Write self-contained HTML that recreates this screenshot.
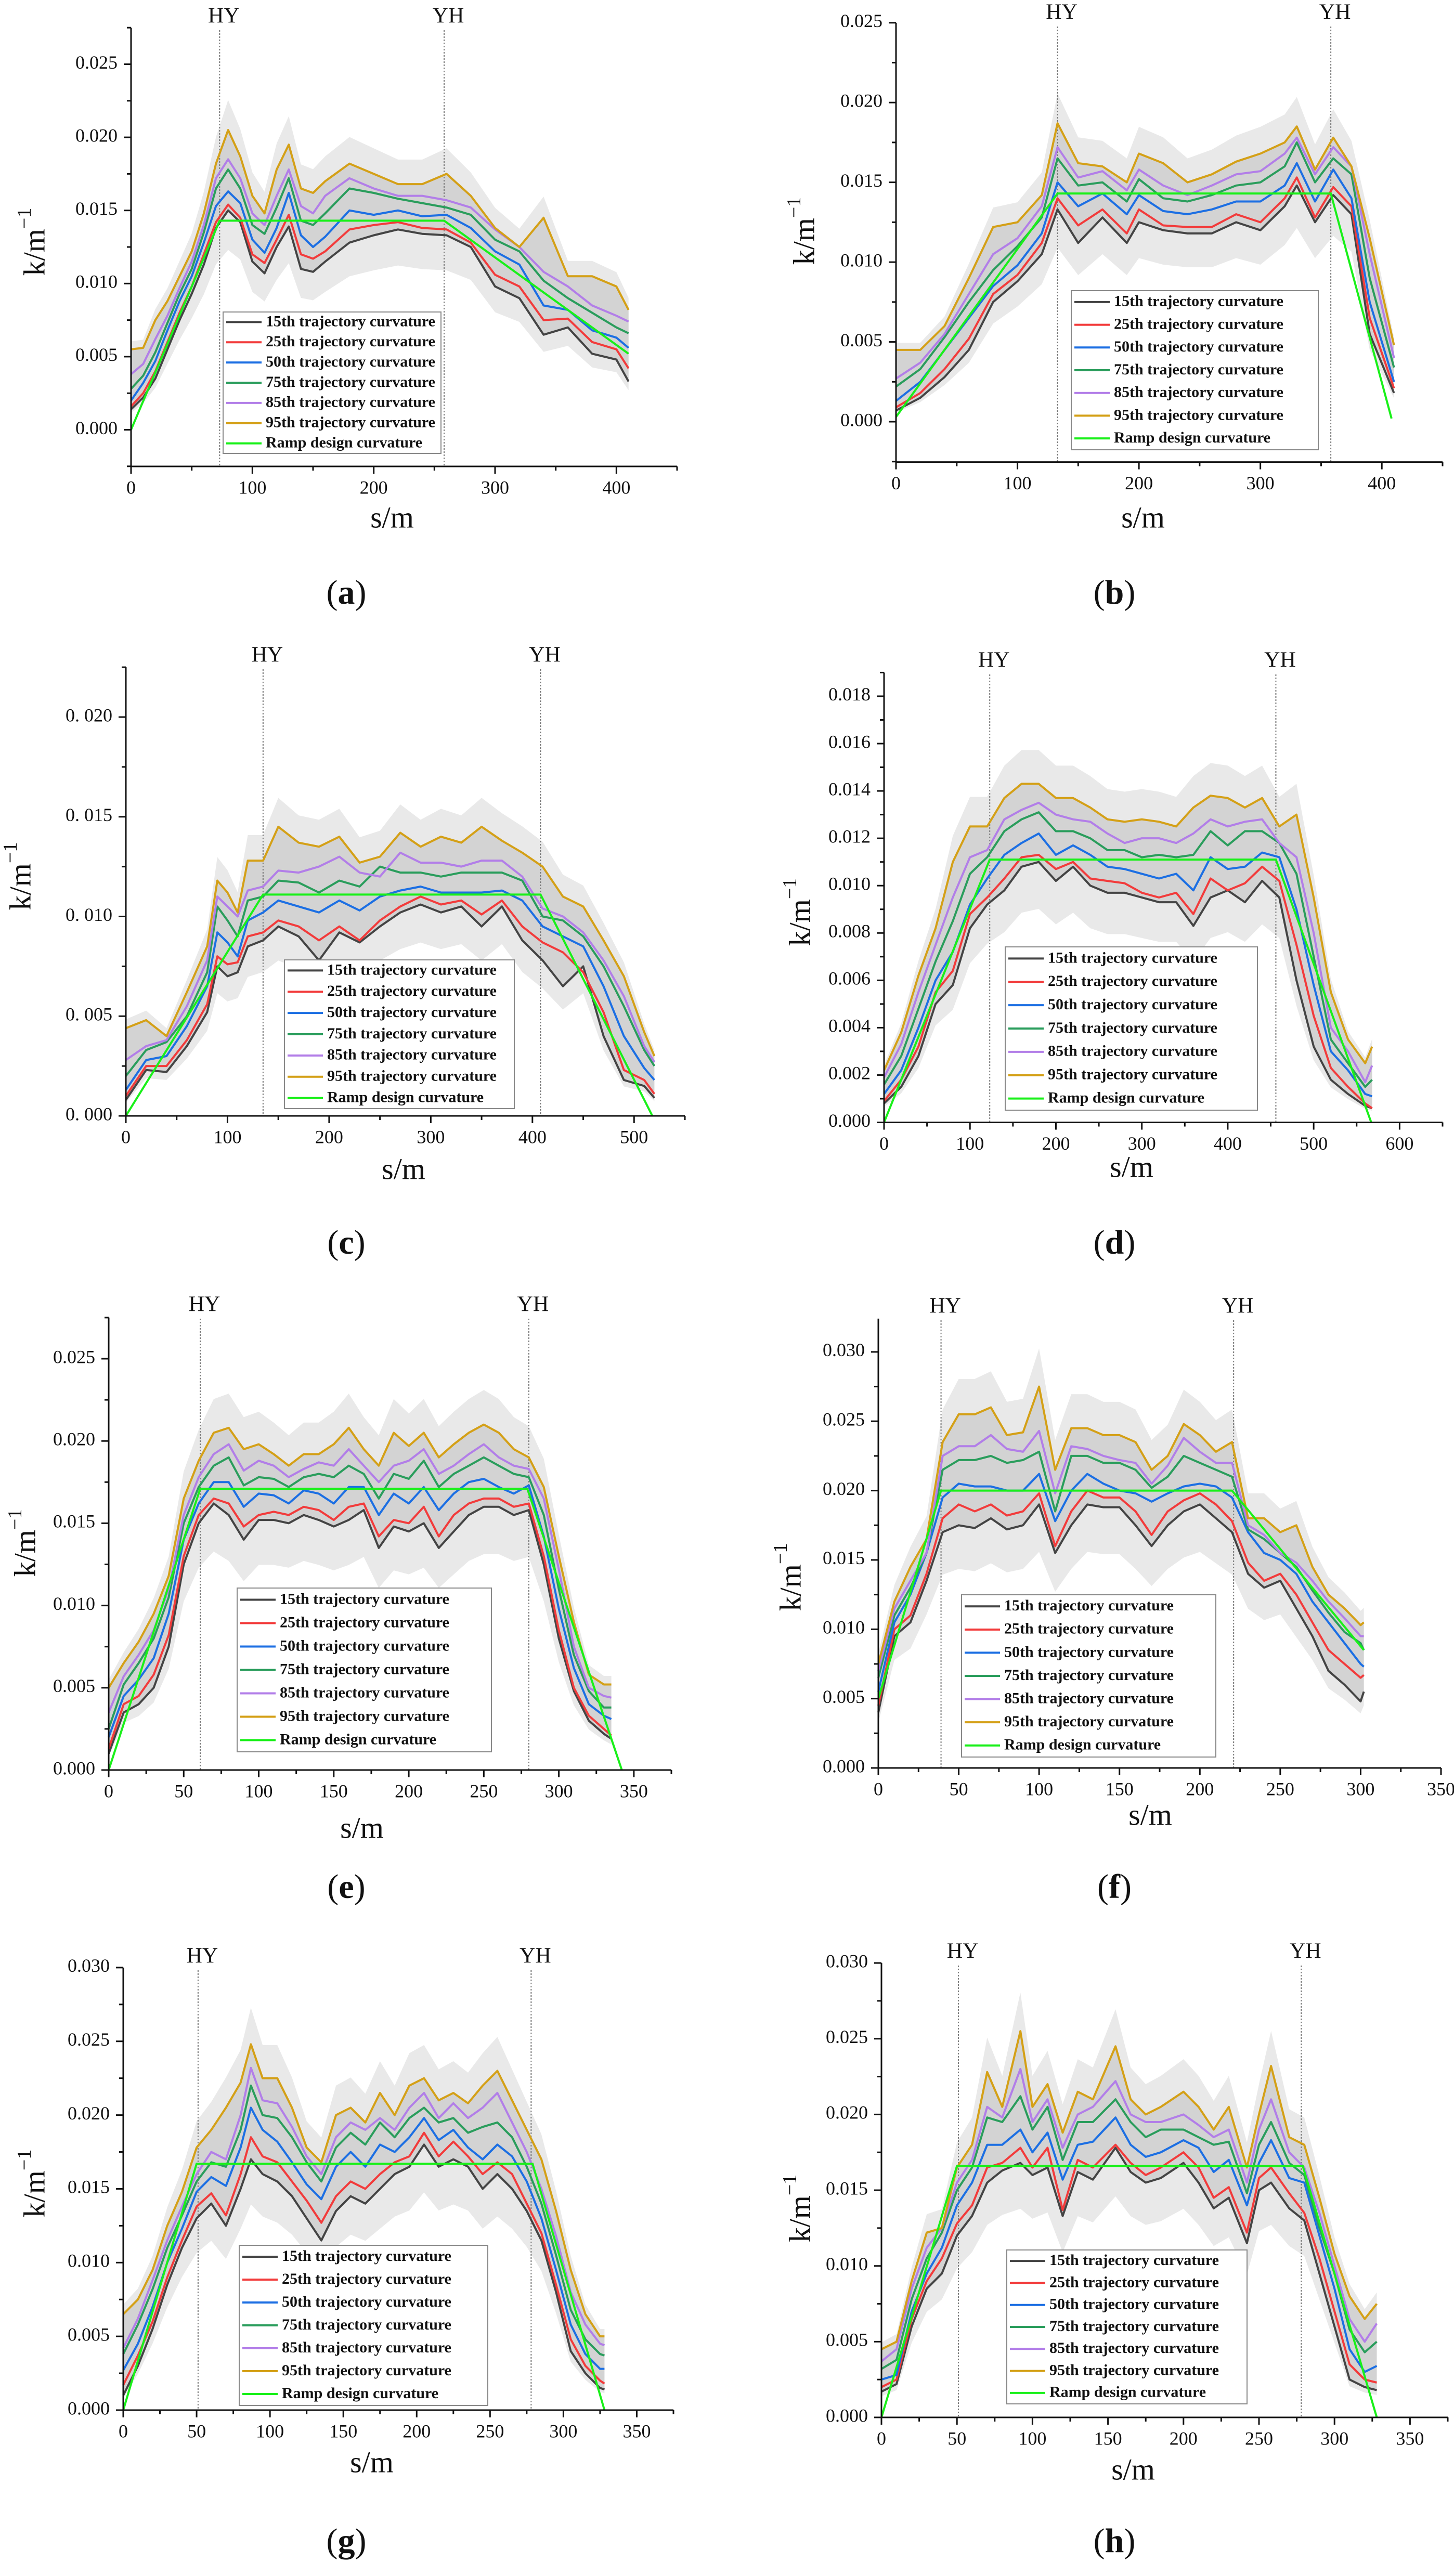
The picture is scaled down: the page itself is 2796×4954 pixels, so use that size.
<!DOCTYPE html>
<html><head><meta charset="utf-8"><title>Trajectory curvature percentiles vs ramp design curvature, panels (a)–(h)</title>
<style>
html,body{margin:0;padding:0;background:#fff;}
svg{display:block;font-family:"Liberation Serif","Times New Roman",serif;}
</style></head>
<body>
<svg id="fig" width="2796" height="4954" viewBox="0 0 2796 4954" xmlns="http://www.w3.org/2000/svg"></svg>
<script>
// ---------- Panel (a) data ----------
const aS   = [0,10,20,30,40,50,60,70,80,90,100,110,120,130,140,150,160,180,200,220,240,260,280,300,320,340,360,380,400,410];
const aP15 = [0.0014,0.0022,0.0035,0.0055,0.0075,0.0093,0.0113,0.0138,0.015,0.0142,0.0115,0.0107,0.0125,0.0139,0.011,0.0108,0.0115,0.0128,0.0133,0.0137,0.0134,0.0133,0.0125,0.0098,0.009,0.0065,0.007,0.0052,0.0048,0.0033];
const aP25 = [0.0016,0.0025,0.004,0.006,0.008,0.0098,0.012,0.0142,0.0154,0.0145,0.012,0.0114,0.013,0.0147,0.012,0.0117,0.0122,0.0137,0.014,0.0142,0.0138,0.0137,0.0128,0.0106,0.0098,0.0075,0.0076,0.006,0.0055,0.0042];
const aP50 = [0.002,0.0032,0.0047,0.0068,0.0088,0.0105,0.0128,0.0153,0.0163,0.0155,0.013,0.0121,0.0138,0.0162,0.0133,0.0125,0.0132,0.015,0.0147,0.015,0.0146,0.0147,0.0138,0.0122,0.0113,0.0085,0.0082,0.0068,0.0063,0.0056];
const aP75 = [0.0028,0.0037,0.0053,0.0073,0.0093,0.011,0.0135,0.0165,0.0178,0.0165,0.014,0.0134,0.0152,0.0172,0.0143,0.014,0.0148,0.0165,0.0162,0.0158,0.0155,0.0152,0.0147,0.013,0.0122,0.0102,0.009,0.008,0.007,0.0066];
const aP85 = [0.0038,0.0045,0.0062,0.0078,0.0097,0.0115,0.014,0.0172,0.0185,0.0172,0.0148,0.014,0.016,0.0178,0.0153,0.0148,0.016,0.0172,0.0165,0.016,0.016,0.0157,0.0152,0.0137,0.0125,0.0108,0.0098,0.0085,0.0078,0.0074];
const aP95 = [0.0055,0.0056,0.0075,0.0088,0.0105,0.0122,0.0148,0.0182,0.0205,0.0187,0.016,0.0148,0.0178,0.0195,0.0165,0.0162,0.017,0.0182,0.0175,0.0168,0.0168,0.0175,0.016,0.0138,0.0125,0.0145,0.0105,0.0105,0.0098,0.0082];
const aDesignS = [0,73,258,410];
const aDesignK = [0,0.0143,0.0143,0.0052];
const aMarks = [73,258];
// ---------- Panel (b) data ----------
const bS   = [0,20,40,60,80,100,120,133,150,170,190,200,220,240,260,280,300,320,330,345,360,375,390,410];
const bP15 = [0.0007,0.0015,0.0028,0.0045,0.0075,0.0088,0.0105,0.0133,0.0112,0.0128,0.0112,0.0125,0.012,0.0118,0.0118,0.0125,0.012,0.0135,0.0148,0.0125,0.0142,0.013,0.0055,0.0018];
const bP25 = [0.0009,0.0018,0.0033,0.0052,0.008,0.0092,0.0112,0.014,0.0123,0.0133,0.0118,0.0133,0.0123,0.0122,0.0122,0.013,0.0125,0.014,0.0153,0.0128,0.0147,0.0135,0.0065,0.0021];
const bP50 = [0.0013,0.0025,0.0045,0.0065,0.0085,0.0098,0.0118,0.015,0.0135,0.0143,0.013,0.0142,0.0132,0.013,0.0133,0.0138,0.0138,0.0148,0.0162,0.0138,0.0158,0.014,0.0075,0.0025];
const bP75 = [0.0022,0.0033,0.0053,0.0075,0.0095,0.011,0.0128,0.0165,0.0148,0.015,0.0138,0.0152,0.014,0.0138,0.0142,0.0148,0.015,0.016,0.0175,0.015,0.0165,0.0155,0.009,0.0034];
const bP85 = [0.0027,0.0037,0.0055,0.008,0.0105,0.0115,0.0135,0.0172,0.0153,0.0157,0.0145,0.0158,0.0148,0.0142,0.0148,0.0155,0.0157,0.0168,0.0178,0.0155,0.0172,0.016,0.0105,0.004];
const bP95 = [0.0045,0.0045,0.006,0.009,0.0122,0.0125,0.0142,0.0187,0.0162,0.016,0.015,0.0168,0.0162,0.015,0.0155,0.0163,0.0168,0.0175,0.0185,0.0158,0.0178,0.016,0.0115,0.0048];
const bDesignS = [0,133,358,408];
const bDesignK = [0.0003,0.0143,0.0143,0.0002];
const bMarks = [133,358];
// ---------- Panel (c) data ----------
const cS   = [0,20,40,60,80,90,100,110,120,135,150,170,190,210,230,250,270,290,310,330,350,370,390,410,430,450,470,490,510,520];
const cP15 = [0.0008,0.0023,0.0022,0.0035,0.0052,0.0075,0.007,0.0072,0.0085,0.0088,0.0095,0.009,0.0078,0.0092,0.0087,0.0095,0.0102,0.0106,0.0102,0.0105,0.0095,0.0105,0.0088,0.0078,0.0065,0.0075,0.004,0.0018,0.0015,0.0009];
const cP25 = [0.001,0.0025,0.0025,0.0038,0.0056,0.008,0.0076,0.0077,0.009,0.0092,0.0098,0.0095,0.0088,0.0095,0.0088,0.0098,0.0105,0.011,0.0106,0.0108,0.0101,0.0108,0.0095,0.0087,0.0082,0.0072,0.0052,0.0023,0.0018,0.0011];
const cP50 = [0.0013,0.0028,0.003,0.0045,0.0065,0.0092,0.0087,0.008,0.0098,0.0102,0.0108,0.0105,0.0102,0.0108,0.0103,0.011,0.0113,0.0115,0.0112,0.0112,0.0112,0.0113,0.0108,0.0095,0.009,0.0085,0.0065,0.004,0.0024,0.0018];
const cP75 = [0.002,0.0033,0.0037,0.005,0.0072,0.0105,0.0098,0.009,0.0108,0.011,0.0118,0.0117,0.0112,0.0118,0.0115,0.0125,0.0122,0.0122,0.012,0.0122,0.0122,0.0122,0.0118,0.01,0.0098,0.009,0.0075,0.0055,0.0033,0.0025];
const cP85 = [0.0028,0.0035,0.0038,0.0055,0.0078,0.011,0.0105,0.01,0.0113,0.0115,0.0123,0.0122,0.0125,0.013,0.0122,0.012,0.0132,0.0127,0.0127,0.0125,0.0128,0.0128,0.012,0.0104,0.01,0.0092,0.0078,0.006,0.0035,0.0027];
const cP95 = [0.0044,0.0048,0.004,0.0062,0.0085,0.0118,0.0112,0.0102,0.0128,0.0128,0.0145,0.0137,0.0135,0.014,0.0127,0.013,0.0142,0.0135,0.014,0.0137,0.0145,0.0138,0.0132,0.0125,0.011,0.0105,0.0088,0.007,0.0042,0.003];
const cDesignS = [0,135,408,518];
const cDesignK = [0,0.0111,0.0111,0];
const cMarks = [135,408];
// ---------- Panel (d) data ----------
const dS   = [0,20,40,60,80,100,120,140,160,180,200,220,240,260,280,300,320,340,360,380,400,420,440,460,480,500,520,540,560,568];
const dP15 = [0.0008,0.0015,0.0028,0.005,0.0058,0.0082,0.0092,0.0098,0.0108,0.011,0.0102,0.0108,0.01,0.0097,0.0097,0.0095,0.0093,0.0093,0.0083,0.0095,0.0098,0.0093,0.0102,0.0095,0.006,0.0032,0.0018,0.0012,0.0007,0.0006];
const dP25 = [0.0009,0.0018,0.0032,0.0055,0.0064,0.0088,0.0095,0.0103,0.0112,0.0113,0.0107,0.011,0.0103,0.0102,0.0101,0.0097,0.0095,0.0097,0.0088,0.0103,0.0098,0.0101,0.0108,0.0102,0.0075,0.0045,0.0023,0.0015,0.0008,0.0006];
const dP50 = [0.0012,0.0022,0.004,0.006,0.0072,0.0092,0.0103,0.0113,0.0118,0.0122,0.0113,0.0117,0.0113,0.0108,0.0107,0.0105,0.0103,0.0105,0.0098,0.0112,0.0107,0.0108,0.0114,0.0112,0.009,0.0058,0.003,0.0022,0.0012,0.0011];
const dP75 = [0.0016,0.0028,0.0048,0.0068,0.0085,0.0105,0.0112,0.0123,0.0128,0.0131,0.0123,0.0123,0.012,0.0115,0.0115,0.0112,0.0113,0.0112,0.0113,0.0123,0.0117,0.0123,0.0123,0.0118,0.0105,0.007,0.0035,0.0025,0.0015,0.0018];
const dP85 = [0.0019,0.0033,0.0055,0.0075,0.0095,0.0112,0.0115,0.0128,0.0132,0.0135,0.013,0.0128,0.0127,0.0122,0.0118,0.012,0.012,0.0118,0.0122,0.0128,0.0125,0.0127,0.0128,0.0118,0.0112,0.008,0.004,0.003,0.0017,0.0024];
const dP95 = [0.0022,0.0038,0.0062,0.0082,0.011,0.0125,0.0125,0.0137,0.0143,0.0143,0.0137,0.0137,0.0133,0.0128,0.0127,0.0128,0.0127,0.0125,0.0133,0.0138,0.0137,0.0133,0.0137,0.0125,0.013,0.0095,0.0055,0.0035,0.0025,0.0032];
const dDesignS = [0,123,456,567];
const dDesignK = [0,0.0111,0.0111,0];
const dMarks = [123,456];
// ---------- Panel (e) data ----------
const eS   = [0,10,20,30,40,50,60,70,80,90,100,110,120,130,140,150,160,170,180,190,200,210,220,230,240,250,260,270,280,290,300,310,320,330,335];
const eP15 = [0.001,0.0035,0.004,0.005,0.0075,0.0125,0.015,0.0162,0.0155,0.014,0.0152,0.0152,0.015,0.0155,0.0152,0.0148,0.0152,0.0158,0.0135,0.0148,0.0145,0.015,0.0135,0.0145,0.0155,0.016,0.016,0.0155,0.0158,0.0125,0.008,0.0048,0.003,0.0022,0.0019];
const eP25 = [0.0013,0.004,0.0045,0.0058,0.0082,0.013,0.0155,0.0165,0.0162,0.0148,0.0155,0.0157,0.0155,0.016,0.0158,0.0152,0.016,0.0162,0.0142,0.0152,0.015,0.016,0.0142,0.0155,0.0162,0.0165,0.0165,0.016,0.0162,0.013,0.0085,0.005,0.0033,0.0025,0.0021];
const eP50 = [0.002,0.0045,0.0055,0.0068,0.0095,0.014,0.0162,0.0175,0.0175,0.016,0.0168,0.0167,0.0162,0.017,0.0168,0.0162,0.0172,0.0172,0.0155,0.0168,0.0162,0.0172,0.0158,0.0168,0.0175,0.0177,0.0172,0.0168,0.0173,0.0142,0.0098,0.0062,0.004,0.0033,0.0031];
const eP75 = [0.0025,0.0052,0.0065,0.008,0.0105,0.015,0.0172,0.0185,0.019,0.0173,0.0178,0.0177,0.0172,0.0178,0.018,0.0178,0.0185,0.018,0.0165,0.018,0.0177,0.0188,0.0172,0.018,0.0185,0.019,0.0185,0.018,0.0178,0.0155,0.011,0.007,0.0048,0.0038,0.0038];
const eP85 = [0.0035,0.0057,0.007,0.0085,0.011,0.0155,0.0178,0.0192,0.0198,0.0182,0.0188,0.0185,0.0178,0.0183,0.0187,0.0185,0.0195,0.0185,0.0175,0.0185,0.0188,0.0195,0.018,0.0185,0.0192,0.0198,0.019,0.0185,0.0183,0.0165,0.0122,0.0075,0.005,0.0045,0.0044];
const eP95 = [0.005,0.0065,0.0078,0.0095,0.0118,0.0165,0.0188,0.0205,0.0208,0.0195,0.0198,0.0192,0.0185,0.0192,0.0192,0.0198,0.0208,0.0195,0.0185,0.0205,0.0197,0.0205,0.019,0.0198,0.0205,0.021,0.0205,0.0195,0.019,0.0172,0.013,0.009,0.0058,0.0052,0.0052];
const eDesignS = [0,61,279,342];
const eDesignK = [0,0.0171,0.0171,0];
const eMarks = [61,280];
// ---------- Panel (f) data ----------
const fS   = [0,10,20,30,40,50,60,70,80,90,100,110,120,130,140,150,160,170,180,190,200,210,220,230,240,250,260,270,280,290,300,302];
const fP15 = [0.004,0.0095,0.0105,0.0135,0.017,0.0175,0.0173,0.018,0.0172,0.0175,0.019,0.0155,0.0175,0.019,0.0188,0.0188,0.0175,0.016,0.0175,0.0185,0.019,0.018,0.017,0.014,0.013,0.0135,0.0115,0.0095,0.007,0.006,0.0048,0.0055];
const fP25 = [0.0045,0.01,0.011,0.014,0.018,0.019,0.0185,0.019,0.0182,0.0185,0.0198,0.016,0.0185,0.02,0.0195,0.0195,0.0185,0.0168,0.0185,0.0193,0.0198,0.019,0.0178,0.0148,0.0135,0.014,0.0125,0.0105,0.0085,0.0075,0.0065,0.0067];
const fP50 = [0.0055,0.0105,0.0125,0.0155,0.0195,0.0205,0.0203,0.0203,0.02,0.02,0.0212,0.0178,0.02,0.0212,0.0205,0.02,0.0198,0.0192,0.0198,0.0203,0.0205,0.0203,0.0195,0.017,0.0155,0.015,0.014,0.012,0.0105,0.009,0.0075,0.0073];
const fP75 = [0.0065,0.011,0.013,0.0155,0.0215,0.0222,0.0222,0.0225,0.022,0.0222,0.0228,0.0185,0.0225,0.0225,0.022,0.022,0.0215,0.0202,0.021,0.0225,0.022,0.0215,0.021,0.0172,0.0165,0.0155,0.0145,0.0128,0.0112,0.0098,0.009,0.0085];
const fP85 = [0.007,0.0115,0.0135,0.0155,0.0225,0.0232,0.0232,0.024,0.023,0.0228,0.0243,0.0198,0.0232,0.023,0.0225,0.0222,0.022,0.0205,0.0218,0.0238,0.0228,0.022,0.022,0.0175,0.0168,0.0155,0.0148,0.0135,0.012,0.0108,0.0095,0.0095];
const fP95 = [0.0075,0.012,0.0145,0.0165,0.0235,0.0255,0.0255,0.026,0.024,0.0242,0.0275,0.0215,0.0245,0.0245,0.024,0.024,0.0235,0.0215,0.0225,0.0248,0.024,0.0228,0.0235,0.018,0.018,0.017,0.0175,0.0145,0.0125,0.0115,0.0103,0.0105];
const fDesignS = [0,39,220,302];
const fDesignK = [0.005,0.02,0.02,0.0085];
const fMarks = [39,221];
// ---------- Panel (g) data ----------
const gS   = [0,10,20,30,40,50,60,70,80,87,95,105,115,125,135,145,155,165,175,185,195,205,215,225,235,245,255,265,275,285,295,305,315,325,328];
const gP15 = [0.001,0.003,0.0055,0.0085,0.011,0.013,0.014,0.0125,0.015,0.017,0.016,0.0155,0.0145,0.013,0.0115,0.0135,0.0145,0.014,0.015,0.016,0.0165,0.018,0.0165,0.017,0.0165,0.015,0.016,0.015,0.0135,0.0115,0.008,0.004,0.0025,0.0015,0.0014];
const gP25 = [0.0017,0.0037,0.006,0.009,0.0115,0.0138,0.0147,0.0132,0.016,0.0185,0.0172,0.0168,0.0155,0.0142,0.0127,0.0145,0.0155,0.015,0.016,0.0168,0.0172,0.0188,0.0172,0.0182,0.0172,0.016,0.0168,0.016,0.014,0.012,0.0085,0.0048,0.003,0.002,0.0018];
const gP50 = [0.0027,0.0045,0.007,0.01,0.0123,0.0148,0.0158,0.0152,0.0178,0.0205,0.019,0.0182,0.0168,0.0153,0.0143,0.0165,0.0175,0.0165,0.018,0.0175,0.0185,0.0198,0.0183,0.019,0.0178,0.017,0.018,0.0172,0.0155,0.013,0.0095,0.0058,0.0038,0.0028,0.0028];
const gP75 = [0.0038,0.0058,0.0082,0.011,0.0132,0.0155,0.0168,0.0165,0.019,0.022,0.02,0.0198,0.0185,0.0168,0.0155,0.0178,0.0188,0.018,0.0195,0.0185,0.0198,0.0205,0.0195,0.0198,0.0188,0.0192,0.0195,0.0185,0.0165,0.014,0.0105,0.0068,0.0048,0.0038,0.0037];
const gP85 = [0.0042,0.0062,0.0088,0.0115,0.0138,0.016,0.0175,0.017,0.02,0.0232,0.021,0.0208,0.0192,0.0172,0.016,0.0185,0.0195,0.019,0.0198,0.019,0.0205,0.0215,0.0198,0.0208,0.0198,0.0205,0.0215,0.0195,0.0175,0.015,0.0118,0.008,0.0058,0.0045,0.0044];
const gP95 = [0.0065,0.0075,0.0095,0.0125,0.0148,0.0178,0.019,0.0205,0.0222,0.0248,0.0225,0.0225,0.0205,0.0178,0.0168,0.02,0.0205,0.0195,0.0215,0.02,0.022,0.0225,0.021,0.0215,0.0208,0.022,0.023,0.021,0.019,0.017,0.0135,0.0095,0.0065,0.005,0.005];
const gDesignS = [0,50,279,328];
const gDesignK = [0,0.0167,0.0167,0];
const gMarks = [51,278];
// ---------- Panel (h) data ----------
const hS   = [0,10,20,30,40,50,60,70,80,92,100,110,120,130,140,155,165,175,185,200,210,220,230,242,250,258,270,280,290,300,310,320,328];
const hP15 = [0.0017,0.0022,0.006,0.0085,0.0095,0.012,0.0133,0.0155,0.0163,0.0168,0.016,0.0165,0.0133,0.0162,0.0157,0.0178,0.0162,0.0155,0.0158,0.0168,0.0155,0.0138,0.0145,0.0115,0.015,0.0155,0.0138,0.013,0.0095,0.006,0.0025,0.002,0.0018];
const hP25 = [0.002,0.0025,0.0065,0.009,0.0105,0.0128,0.014,0.0165,0.0168,0.0178,0.0165,0.0178,0.0137,0.017,0.0165,0.018,0.0168,0.016,0.0165,0.0175,0.0165,0.0145,0.0152,0.0122,0.0158,0.0165,0.0148,0.0135,0.0105,0.007,0.0035,0.0025,0.0023];
const hP50 = [0.0025,0.0028,0.007,0.0095,0.0112,0.014,0.0155,0.018,0.018,0.019,0.0175,0.0188,0.0157,0.018,0.0182,0.0198,0.018,0.0172,0.0175,0.0183,0.0178,0.0162,0.017,0.014,0.0168,0.0183,0.0158,0.0155,0.012,0.0085,0.0045,0.003,0.0034];
const hP75 = [0.0032,0.0038,0.0078,0.0105,0.0122,0.015,0.0165,0.0198,0.0195,0.0212,0.019,0.0205,0.017,0.0195,0.0195,0.021,0.0195,0.0185,0.019,0.019,0.0185,0.018,0.0182,0.0148,0.018,0.0195,0.0168,0.016,0.0125,0.0095,0.0058,0.0043,0.005];
const hP85 = [0.0037,0.0045,0.0085,0.0112,0.0125,0.0155,0.017,0.0205,0.0198,0.023,0.0195,0.021,0.0178,0.02,0.0205,0.0222,0.02,0.0195,0.0195,0.02,0.0193,0.0185,0.019,0.0155,0.019,0.021,0.0175,0.0165,0.0135,0.01,0.0065,0.005,0.0062];
const hP95 = [0.0045,0.005,0.009,0.0122,0.0125,0.0165,0.018,0.0228,0.0205,0.0255,0.0205,0.022,0.0188,0.0215,0.021,0.0245,0.021,0.02,0.0205,0.0215,0.0205,0.019,0.0205,0.0165,0.02,0.0232,0.0185,0.018,0.0145,0.0108,0.008,0.0065,0.0075];
const hDesignS = [0,50,279,328];
const hDesignK = [0,0.0166,0.0166,0];
const hMarks = [51,278];

const legendLabels = ["15th trajectory curvature","25th trajectory curvature","50th trajectory curvature","75th trajectory curvature","85th trajectory curvature","95th trajectory curvature","Ramp design curvature"];
const seriesNames = ["p15","p25","p50","p75","p85","p95"];
const seriesColors = ["#444444","#f23b3b","#1c6fe3","#2a9d5c","#b27ee8","#d4a017"];
const designColor = "#19f019";

const NS = "http://www.w3.org/2000/svg";
const fig = document.getElementById("fig");
function mk(tag, attrs, parent){
  const e = document.createElementNS(NS, tag);
  for (const k in attrs) e.setAttribute(k, attrs[k]);
  (parent||fig).appendChild(e);
  return e;
}

const layouts = [
 {id:"a", left:252, right:1302, y0:826.5, pxK:28120, top:53, bottom:897, xMax:450, xMaj:100, xMin:50, yMin:-0.0025, yMax:0.0275, yMaj:0.005, yMinor:0.0025, yFirst:0, yLast:0.025, spaced:false, legend:[429,600,848,872], kx:72, ky:465, sx:754, sy:1001, capX:666, capY:1146, capLbl:"a", markY:34},
 {id:"b", left:1723, right:2774, y0:811, pxK:30690, top:44, bottom:888.6, xMax:450, xMaj:100, xMin:50, yMin:-0.0025, yMax:0.025, yMaj:0.005, yMinor:0.0025, yFirst:0, yLast:0.025, spaced:false, legend:[2060,559,2535,865], kx:1552, ky:444, sx:2198, sy:1001, capX:2143, capY:1146, capLbl:"b", markY:27},
 {id:"c", left:242, right:1317, y0:2146, pxK:38350, top:1283, bottom:2146, xMax:550, xMaj:100, xMin:50, yMin:0, yMax:0.0225, yMaj:0.005, yMinor:0.0025, yFirst:0, yLast:0.020, spaced:true, legend:[547,1846,989,2132], kx:45, ky:1685, sx:776, sy:2254, capX:666, capY:2396, capLbl:"c", markY:1263},
 {id:"d", left:1700, right:2774, y0:2158.5, pxK:45530, top:1294, bottom:2158.5, xMax:650, xMaj:100, xMin:50, yMin:0, yMax:0.019, yMaj:0.002, yMinor:0.001, yFirst:0, yLast:0.018, spaced:false, legend:[1933,1821,2418,2135], kx:1544, ky:1754, sx:2176, sy:2250, capX:2143, capY:2396, capLbl:"d", markY:1273},
 {id:"e", left:209, right:1291, y0:3404, pxK:31640, top:2533, bottom:3404, xMax:375, xMaj:50, xMin:25, yMin:0, yMax:0.0275, yMaj:0.005, yMinor:0.0025, yFirst:0, yLast:0.025, spaced:false, legend:[456,3054,945,3369], kx:54, ky:2967, sx:696, sy:3521, capX:666, capY:3635, capLbl:"e", markY:2512},
 {id:"f", left:1689, right:2771, y0:3400, pxK:26670, top:2535, bottom:3400, xMax:350, xMaj:50, xMin:25, yMin:0, yMax:0.0324, yMaj:0.005, yMinor:0.0025, yFirst:0, yLast:0.030, spaced:false, legend:[1849,3067,2338,3379], kx:1526, ky:3033, sx:2212, sy:3496, capX:2143, capY:3635, capLbl:"f", markY:2515},
 {id:"g", left:237, right:1295, y0:4635, pxK:28370, top:3784, bottom:4635, xMax:375, xMaj:50, xMin:25, yMin:0, yMax:0.030, yMaj:0.005, yMinor:0.0025, yFirst:0, yLast:0.030, spaced:false, legend:[460,4318,938,4626], kx:72, ky:4199, sx:715, sy:4741, capX:666, capY:4893, capLbl:"g", markY:3765},
 {id:"h", left:1695, right:2784, y0:4649, pxK:29130, top:3775, bottom:4649, xMax:375, xMaj:50, xMin:25, yMin:0, yMax:0.030, yMaj:0.005, yMinor:0.0025, yFirst:0, yLast:0.030, spaced:false, legend:[1936,4327,2398,4623], kx:1544, ky:4247, sx:2179, sy:4755, capX:2143, capY:4893, capLbl:"h", markY:3756}
];
const panelData = {
 a:{s:aS, p:[aP15,aP25,aP50,aP75,aP85,aP95], ds:aDesignS, dk:aDesignK, m:aMarks},
 b:{s:bS, p:[bP15,bP25,bP50,bP75,bP85,bP95], ds:bDesignS, dk:bDesignK, m:bMarks},
 c:{s:cS, p:[cP15,cP25,cP50,cP75,cP85,cP95], ds:cDesignS, dk:cDesignK, m:cMarks},
 d:{s:dS, p:[dP15,dP25,dP50,dP75,dP85,dP95], ds:dDesignS, dk:dDesignK, m:dMarks},
 e:{s:eS, p:[eP15,eP25,eP50,eP75,eP85,eP95], ds:eDesignS, dk:eDesignK, m:eMarks},
 f:{s:fS, p:[fP15,fP25,fP50,fP75,fP85,fP95], ds:fDesignS, dk:fDesignK, m:fMarks},
 g:{s:gS, p:[gP15,gP25,gP50,gP75,gP85,gP95], ds:gDesignS, dk:gDesignK, m:gMarks},
 h:{s:hS, p:[hP15,hP25,hP50,hP75,hP85,hP95], ds:hDesignS, dk:hDesignK, m:hMarks}
};

function drawPanel(L){
  const D = panelData[L.id];
  const pxS = (L.right - L.left) / L.xMax;
  const X = s => L.left + s * pxS;
  const Y = k => L.y0 - k * L.pxK;
  const g = mk("g", {});
  
  

  const outer = D.s.map((s,i)=>X(s)+","+Y(D.p[5][i]*1.1)).concat(D.s.slice().reverse().map((s,j)=>{const i=D.s.length-1-j;return X(s)+","+Y(D.p[0][i]*0.82);}));
  const ob = mk("polygon", {points: outer.join(" "), fill:"#e9e9e9", stroke:"none"}, g);
  
  
  const inner = D.s.map((s,i)=>X(s)+","+Y(D.p[5][i])).concat(D.s.slice().reverse().map((s,j)=>{const i=D.s.length-1-j;return X(s)+","+Y(D.p[0][i]);}));
  const ib = mk("polygon", {points: inner.join(" "), fill:"#d3d3d3", stroke:"none"}, g);
  
  

  ["HY","YH"].forEach((lbl, i) => {
    const xm = X(D.m[i]);
    const ln = mk("line", {x1:xm, y1:L.markY+24, x2:xm, y2:L.bottom, stroke:"#777", "stroke-width":2, "stroke-dasharray":"3,3"}, g);
    
    
    const t = mk("text", {x:xm+8, y:L.markY, "font-size":42, "text-anchor":"middle", "dominant-baseline":"middle", fill:"#111"}, g);
    t.textContent = lbl;
    
    
  });

  D.p.forEach((arr, si) => {
    const pts = D.s.map((s,i)=>X(s).toFixed(1)+","+Y(arr[i]).toFixed(1)).join(" ");
    const pl = mk("polyline", {points: pts, fill:"none", stroke:seriesColors[si], "stroke-width":4, "stroke-linejoin":"round"}, g);
    
    
  });
  const dpts = D.ds.map((s,i)=>X(s)+","+Y(D.dk[i])).join(" ");
  const dl = mk("polyline", {points: dpts, fill:"none", stroke:designColor, "stroke-width":4}, g);
  
  

  const ax = mk("path", {d:`M${L.left},${Y(L.yMax)} L${L.left},${L.bottom} L${L.right},${L.bottom}`, fill:"none", stroke:"#111", "stroke-width":3}, g);
  
  

  for (let s = 0; s <= L.xMax + 0.01; s += L.xMin){
    const major = Math.abs(s / L.xMaj - Math.round(s / L.xMaj)) < 1e-6;
    const tk = mk("line", {x1:X(s), y1:L.bottom, x2:X(s), y2:L.bottom + (major?14:8), stroke:"#111", "stroke-width":3}, g);
    
    
    if (major){
      const t = mk("text", {x:X(s), y:L.bottom+44, "font-size":36, "text-anchor":"middle", "dominant-baseline":"middle", fill:"#111"}, g);
      t.textContent = String(Math.round(s));
      
      
    }
  }
  const nMin = Math.ceil((L.yMin - 1e-9) / L.yMinor);
  const nMax = Math.floor((L.yMax + 1e-9) / L.yMinor);
  for (let n = nMin; n <= nMax; n++){
    const k = n * L.yMinor;
    const major = Math.abs(k / L.yMaj - Math.round(k / L.yMaj)) < 1e-6;
    const tk = mk("line", {x1:L.left, y1:Y(k), x2:L.left - (major?14:8), y2:Y(k), stroke:"#111", "stroke-width":3}, g);
    
    
    if (major && k >= L.yFirst - 1e-9 && k <= L.yLast + 1e-9){
      let lbl = Math.abs(k) < 1e-9 ? "0.000" : k.toFixed(3);
      if (L.spaced) lbl = lbl.replace(".", ". ");
      const t = mk("text", {x:L.left-26, y:Y(k), "font-size":36, "text-anchor":"end", "dominant-baseline":"middle", fill:"#111"}, g);
      t.textContent = lbl;
      
      
    }
  }
  const yt = mk("text", {x:0, y:0, "font-size":58, "text-anchor":"middle", "dominant-baseline":"middle", fill:"#111", transform:`translate(${L.kx},${L.ky}) rotate(-90)`}, g);
  
  
  yt.appendChild(document.createTextNode("k/m"));
  const sup = mk("tspan", {"font-size":38, dy:-22}, yt);
  sup.textContent = "−1";
  const xt = mk("text", {x:L.sx, y:L.sy, "font-size":58, "text-anchor":"middle", "dominant-baseline":"middle", fill:"#111"}, g);
  xt.textContent = "s/m";
  
  

  const [lx1, ly1, lx2, ly2] = L.legend;
  const lg = mk("g", {}, g);
  
  
  mk("rect", {x:lx1, y:ly1, width:lx2-lx1, height:ly2-ly1, fill:"#fff", stroke:"#888", "stroke-width":2}, lg);
  const rowH = (ly2 - ly1) / 7;
  legendLabels.forEach((lbl, i) => {
    const cy = ly1 + rowH * (i + 0.5);
    const col = i < 6 ? seriesColors[i] : designColor;
    const ent = mk("g", {}, lg);
    
    
    mk("line", {x1:lx1+6, y1:cy, x2:lx1+74, y2:cy, stroke:col, "stroke-width":4}, ent);
    const t = mk("text", {x:lx1+82, y:cy+1, "font-size":30, "font-weight":"bold", "dominant-baseline":"middle", fill:"#111"}, ent);
    t.textContent = lbl;
  });

  const cap = mk("text", {x:L.capX, y:L.capY, "font-size":66, "text-anchor":"middle", "dominant-baseline":"middle", fill:"#111"}, g);
  
  
  cap.appendChild(document.createTextNode("("));
  const b = mk("tspan", {"font-weight":"bold"}, cap);
  b.textContent = L.capLbl;
  cap.appendChild(document.createTextNode(")"));
}
layouts.forEach(drawPanel);
</script>
</body></html>
